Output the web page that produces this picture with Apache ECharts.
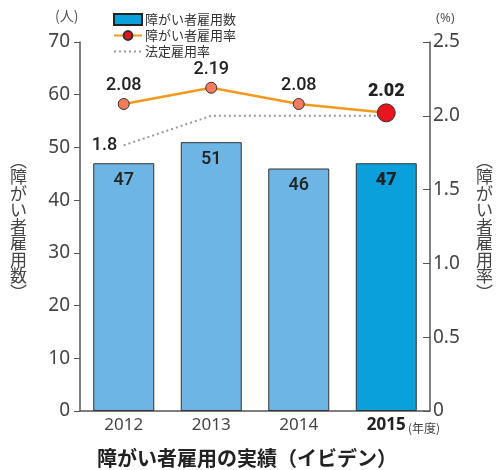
<!DOCTYPE html>
<html>
<head>
<meta charset="utf-8">
<script src="https://cdn.jsdelivr.net/npm/echarts@6/dist/echarts.min.js"></script>
<style>
  html, body { margin: 0; padding: 0; background: #fff; }
  #chart { width: 499px; height: 470px; }
</style>
</head>
<body>
<div id="chart"></div>
<script>
const years = ['2012', '2013', '2014', '2015']
const employees = [47, 51, 46, 47]
const employmentRate = [2.08, 2.19, 2.08, 2.02]
const legalRate = [1.8, 2.0, 2.0, 2.0]

const FONT = "'Noto Sans', 'Noto Sans CJK JP', sans-serif"
const NUM = "Roboto, 'Noto Sans', sans-serif"
const JP = "'Noto Sans CJK JP', sans-serif"
const last = years.length - 1

const chart = echarts.init(document.getElementById('chart'))

const option = {
  animation: false,
  textStyle: { fontFamily: FONT },
  title: {
    text: '障がい者雇用の実績（イビデン）',
    left: 92,
    bottom: -3,
    textStyle: { fontFamily: JP, fontSize: 20, fontWeight: 'bold', color: '#222' }
  },
  legend: {
    orient: 'vertical',
    left: 108,
    top: 8,
    itemGap: 3,
    itemWidth: 28,
    itemHeight: 11,
    textStyle: { fontFamily: JP, fontSize: 13, color: '#333', padding: [0, 0, 0, -2] },
    data: [
      { name: '障がい者雇用数', icon: 'rect', itemStyle: { color: '#0aa0dc', borderColor: '#222', borderWidth: 2 } },
      { name: '障がい者雇用率' },
      { name: '法定雇用率' }
    ]
  },
  grid: { left: 80, right: 69, top: 42, bottom: 59 },
  xAxis: {
    type: 'category',
    data: years,
    axisLine: { lineStyle: { color: '#555', width: 1.5 } },
    axisTick: { inside: true, length: 8, lineStyle: { color: '#555' } },
    axisLabel: {
      interval: 0,
      fontSize: 17,
      color: '#444',
      margin: 6,
      formatter: (v, i) => i === last ? '{b|' + v + '}' : v,
      rich: { b: { fontSize: 17, fontWeight: 'bold', color: '#222', fontFamily: FONT } }
    }
  },
  yAxis: [
    {
      type: 'value',
      min: 0,
      max: 70,
      interval: 10,
      splitLine: { show: false },
      axisLine: { show: true, lineStyle: { color: '#555', width: 1.5 } },
      axisTick: { show: true, length: 6, lineStyle: { color: '#555' } },
      axisLabel: { fontSize: 19, color: '#444', margin: 10 }
    },
    {
      type: 'value',
      min: 0,
      max: 2.5,
      interval: 0.5,
      splitLine: { show: false },
      axisLine: { show: true, lineStyle: { color: '#555', width: 1.5 } },
      axisTick: { show: true, inside: true, length: 7, lineStyle: { color: '#555' } },
      axisLabel: { fontSize: 19, color: '#444', margin: 3, formatter: v => v === 0 ? '0' : v.toFixed(1) }
    }
  ],
  graphic: [
    { type: 'text', left: 55, top: 9, style: { text: '(人)', font: '14px ' + JP, fill: '#555' } },
    { type: 'text', left: 436, top: 12, style: { text: '(%)', font: '13px ' + FONT, fill: '#555' } },
    { type: 'text', left: 408, top: 422, style: { text: '(年度)', font: '12px ' + JP, fill: '#444' } },
    {
      type: 'text', left: 10, top: 152,
      style: { text: '︵\n障\nが\nい\n者\n雇\n用\n数\n︶', font: '17px ' + JP, fill: '#444', lineHeight: 16.5, align: 'center' }
    },
    {
      type: 'text', left: 476, top: 152,
      style: { text: '︵\n障\nが\nい\n者\n雇\n用\n率\n︶', font: '17px ' + JP, fill: '#444', lineHeight: 16.5, align: 'center' }
    }
  ],
  series: [
    {
      name: '障がい者雇用数',
      type: 'bar',
      barWidth: 61,
      itemStyle: { color: '#0aa0dc', borderColor: '#333', borderWidth: 1 },
      label: {
        show: true,
        position: 'insideTop',
        distance: 8,
        fontSize: 18,
        fontFamily: NUM,
        fontWeight: 500,
        color: '#222'
      },
      data: employees.map((v, i) => i === last
        ? { value: v, label: { fontWeight: 900 } }
        : { value: v, itemStyle: { color: '#6cb5e4' } })
    },
    {
      name: '法定雇用率',
      type: 'line',
      yAxisIndex: 1,
      z: 3,
      symbol: 'circle',
      symbolSize: 1,
      itemStyle: { color: 'rgba(0,0,0,0)' },
      lineStyle: { color: '#999', width: 2, type: [2, 3] },
      label: { show: false },
      data: legalRate.map((v, i) => i === 0
        ? { value: v, label: { show: true, position: 'left', distance: 6, fontSize: 18, fontFamily: NUM, fontWeight: 500, color: '#222' } }
        : v)
    },
    {
      name: '障がい者雇用率',
      type: 'line',
      yAxisIndex: 1,
      z: 4,
      symbol: 'circle',
      symbolSize: 11,
      lineStyle: { color: '#f39a1e', width: 2.5 },
      itemStyle: { color: '#e8141e', borderColor: '#333', borderWidth: 1 },
      label: {
        show: true,
        position: 'top',
        distance: 3,
        fontSize: 18,
        fontFamily: NUM,
        fontWeight: 500,
        color: '#222',
        formatter: p => p.value.toFixed(2)
      },
      data: employmentRate.map((v, i) => i === last
        ? { value: v, symbolSize: 18, label: { fontWeight: 900 } }
        : { value: v, itemStyle: { color: '#f47b5c' } })
    }
  ]
}

chart.setOption(option)
</script>
</body>
</html>
